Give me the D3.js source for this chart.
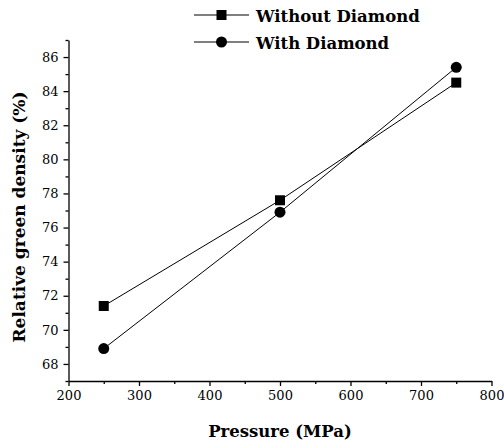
<!DOCTYPE html>
<html>
<head>
<meta charset="utf-8">
<script src="https://cdn.jsdelivr.net/npm/d3@7"></script>
<style>
  body { margin: 0; background: #fff; }
</style>
</head>
<body>
<div class="svgContainer"></div>
<script>
  var pressure       = [250, 500, 750];
  var withoutDiamond = [71.4, 77.6, 84.5];
  var withDiamond    = [68.9, 76.9, 85.4];
  var seriesNames    = ["Without Diamond", "With Diamond"];
  var xTicks         = [200, 300, 400, 500, 600, 700, 800];
  var yTicks         = [68, 70, 72, 74, 76, 78, 80, 82, 84, 86];

  var width = 504, height = 448;
  var serif = "'DejaVu Serif', serif";

  var svg = d3.select(".svgContainer")
    .append("svg")
    .attr("width", width)
    .attr("height", height);

  var x = d3.scaleLinear().domain([200, 800]).range([68.5, 491.5]);
  var y = d3.scaleLinear().domain([67, 87]).range([381, 40]);

  // minor ticks first, majors on top
  var xMinor = d3.range(250, 800, 100);
  var yMinor = d3.range(67, 88, 2);

  svg.append("g")
    .attr("transform", "translate(0,381)")
    .call(d3.axisBottom(x).tickValues(xMinor).tickSize(3).tickFormat(""))
    .call(g => g.select(".domain").remove());

  svg.append("g")
    .attr("transform", "translate(68.5,0)")
    .call(d3.axisLeft(y).tickValues(yMinor).tickSize(3).tickFormat(""))
    .call(g => g.select(".domain").remove());

  var xAxis = svg.append("g")
    .attr("transform", "translate(0,381)")
    .call(d3.axisBottom(x).tickValues(xTicks).tickSize(5).tickSizeOuter(0).tickPadding(5));

  var yAxis = svg.append("g")
    .attr("transform", "translate(68.5,0)")
    .call(d3.axisLeft(y).tickValues(yTicks).tickSize(5).tickSizeOuter(0).tickPadding(5));

  svg.selectAll("g").attr("font-family", serif).attr("font-size", 13);
  svg.selectAll(".domain, .tick line").attr("stroke", "#000").attr("stroke-width", 1.3);

  // axis titles
  svg.append("text")
    .attr("x", 280).attr("y", 437)
    .attr("text-anchor", "middle")
    .style("font-family", serif)
    .style("font-size", "16.5px").style("font-weight", "bold")
    .text("Pressure (MPa)");

  svg.append("text")
    .attr("transform", "translate(25,217) rotate(-90)")
    .attr("text-anchor", "middle")
    .style("font-family", serif)
    .style("font-size", "17px").style("font-weight", "bold")
    .text("Relative green density (%)");

  var series = [withoutDiamond, withDiamond];
  var line = d3.line().x((d, i) => x(pressure[i])).y(d => y(d));

  series.forEach(function(vals, s){
    svg.append("path")
      .attr("d", line(vals))
      .attr("fill", "none")
      .attr("stroke", "#000")
      .attr("stroke-width", 1);

    var pts = svg.selectAll(".pt" + s)
      .data(vals)
      .enter();
    if (s === 0) {
      pts.append("rect")
        .attr("x", (d, i) => x(pressure[i]) - 5)
        .attr("y", d => y(d) - 5)
        .attr("width", 10).attr("height", 10)
        .attr("fill", "#000");
    } else {
      pts.append("circle")
        .attr("cx", (d, i) => x(pressure[i]))
        .attr("cy", d => y(d))
        .attr("r", 5.5)
        .attr("fill", "#000");
    }
  });

  // legend
  var legend = svg.append("g");
  seriesNames.forEach(function(name, s){
    var ly = 15 + s * 27;
    legend.append("line")
      .attr("x1", 194).attr("x2", 249)
      .attr("y1", ly).attr("y2", ly)
      .attr("stroke", "#000").attr("stroke-width", 1);
    if (s === 0) {
      legend.append("rect")
        .attr("x", 216.5).attr("y", ly - 5)
        .attr("width", 10).attr("height", 10)
        .attr("fill", "#000");
    } else {
      legend.append("circle")
        .attr("cx", 221.5).attr("cy", ly).attr("r", 5.5)
        .attr("fill", "#000");
    }
    legend.append("text")
      .attr("x", 256).attr("y", ly + 6.5)
      .style("font-family", serif)
      .style("font-size", "16.5px").style("font-weight", "bold")
      .text(name);
  });
</script>
</body>
</html>
